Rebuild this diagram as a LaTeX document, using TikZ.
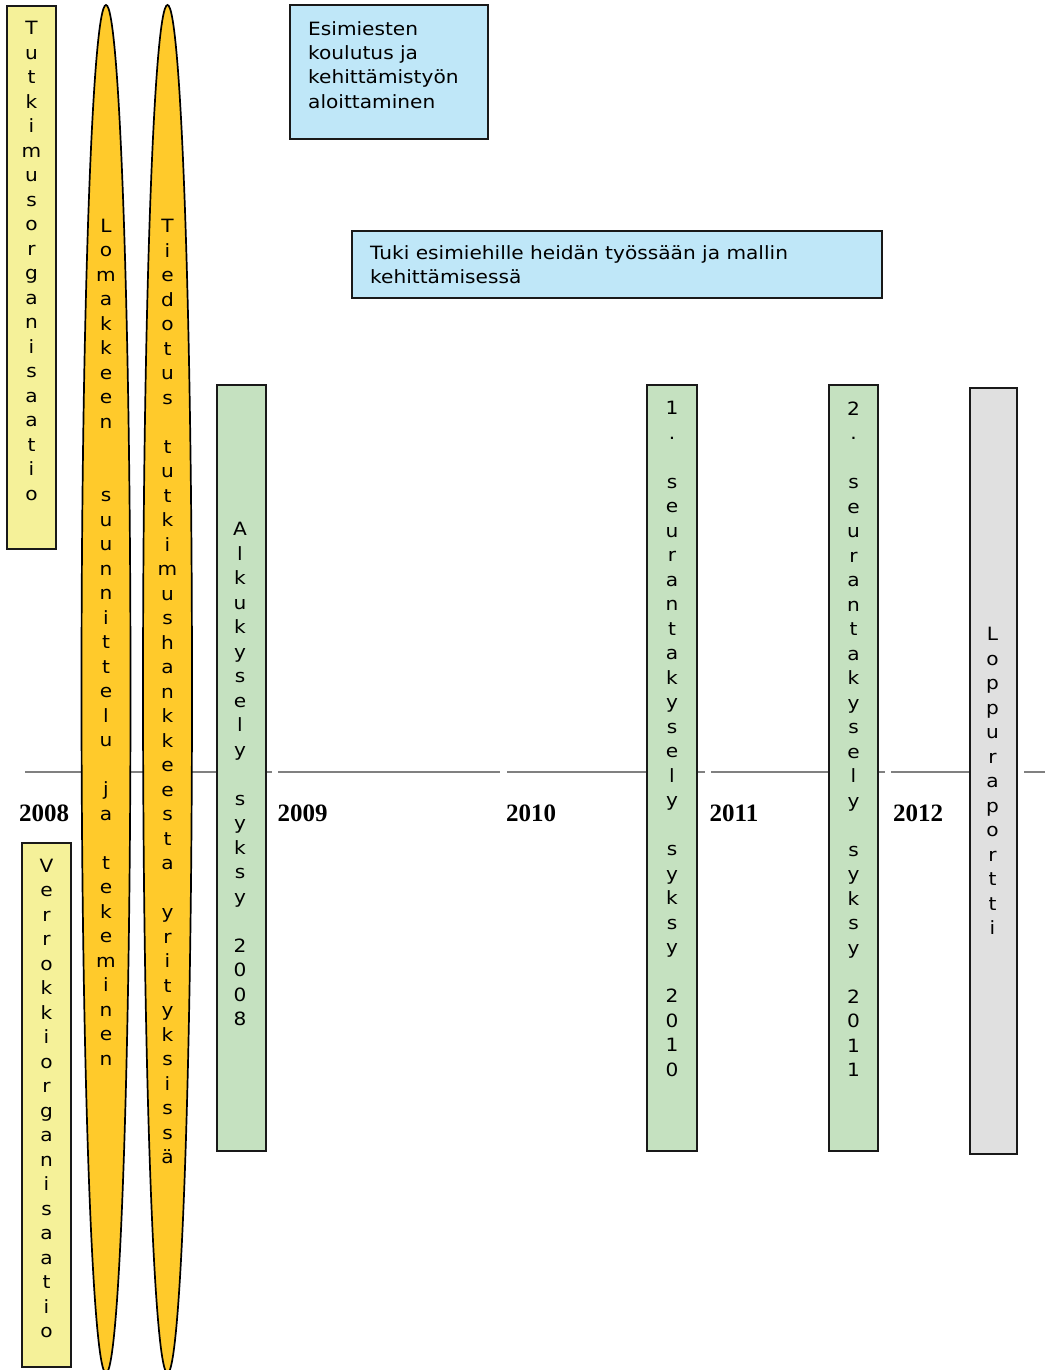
\documentclass[tikz,border=0pt]{standalone}
\usepackage{fontspec}
\setmainfont{DejaVu Sans}[FakeStretch=1.1]
\newfontfamily\yearfont{Liberation Serif}
\usetikzlibrary{shapes.geometric}
\definecolor{lyellow}{HTML}{F5F199}
\definecolor{orangeY}{HTML}{FFCA2B}
\definecolor{lgreen}{HTML}{C5E1C0}
\definecolor{lgray}{HTML}{E0E0E0}
\definecolor{lblue}{HTML}{BFE7F8}
\definecolor{tline}{HTML}{808080}
\newcommand\emptyline{\mbox{}}
\begin{document}
\begin{tikzpicture}[x=1pt,y=-1pt,
  box/.style={draw=black!90, line width=1.6pt, inner sep=0pt},
  ell/.style={ellipse, draw=black, line width=1.7pt, fill=orangeY, inner sep=0pt},
  vtext/.style={align=center, inner sep=0pt, font=\fontsize{18.3}{24.5}\selectfont},
  htext/.style={align=left, inner sep=0pt, anchor=north west, font=\fontsize{18.3}{24.4}\selectfont},
  year/.style={font=\yearfont\bfseries\fontsize{25}{26}\selectfont, inner sep=0pt},
  tl/.style={draw=tline, line width=1.2pt}]
\useasboundingbox (0,0) rectangle (1045,1370);
% timeline
\draw[tl] (25,772) -- (272,772);
\draw[tl] (278,772) -- (500,772);
\draw[tl] (507,772) -- (705,772);
\draw[tl] (711,772) -- (885,772);
\draw[tl] (891,772) -- (1017,772);
\draw[tl] (1024,772) -- (1045,772);
% years
\node[year] (y2008) at (44,813) {2008};
\node[year] (y2009) at (302.5,813) {2009};
\node[year] (y2010) at (531,813) {2010};
\node[year] (y2011) at (734,813) {2011};
\node[year] (y2012) at (918,813) {2012};
% yellow boxes
\node[box, fill=lyellow, minimum width=49, minimum height=543] (tut) at (31.5,277.5) {};
\node[vtext] (tuttext) at (31.5,261) {T\\u\\t\\k\\i\\m\\u\\s\\o\\r\\g\\a\\n\\i\\s\\a\\a\\t\\i\\o};
\node[box, fill=lyellow, minimum width=49, minimum height=524] (verr) at (46.5,1105) {};
\node[vtext] (verrtext) at (46.5,1098.5) {V\\e\\r\\r\\o\\k\\k\\i\\o\\r\\g\\a\\n\\i\\s\\a\\a\\t\\i\\o};
% ellipses
\node[ell, minimum width=49, minimum height=1368] (e1) at (106,689) {};
\node[vtext] (e1text) at (106,642) {L\\o\\m\\a\\k\\k\\e\\e\\n\\\emptyline\\\emptyline\\s\\u\\u\\n\\n\\i\\t\\t\\e\\l\\u\\\emptyline\\j\\a\\\emptyline\\t\\e\\k\\e\\m\\i\\n\\e\\n};
\node[ell, minimum width=49, minimum height=1368] (e2) at (167.5,689) {};
\node[vtext] (e2text) at (167.5,691.5) {T\\i\\e\\d\\o\\t\\u\\s\\\emptyline\\t\\u\\t\\k\\i\\m\\u\\s\\h\\a\\n\\k\\k\\e\\e\\s\\t\\a\\\emptyline\\y\\r\\i\\t\\y\\k\\s\\i\\s\\s\\ä};
% green boxes
\node[box, fill=lgreen, minimum width=49, minimum height=766] (alku) at (241.5,768) {};
\node[vtext] (alkutext) at (240,774) {A\\l\\k\\u\\k\\y\\s\\e\\l\\y\\\emptyline\\s\\y\\k\\s\\y\\\emptyline\\2\\0\\0\\8};
\node[box, fill=lgreen, minimum width=50, minimum height=766] (s1) at (672,768) {};
\node[vtext] (s1text) at (672,739) {1\\.\\\emptyline\\s\\e\\u\\r\\a\\n\\t\\a\\k\\y\\s\\e\\l\\y\\\emptyline\\s\\y\\k\\s\\y\\\emptyline\\2\\0\\1\\0};
\node[box, fill=lgreen, minimum width=49, minimum height=766] (s2) at (853.5,768) {};
\node[vtext] (s2text) at (853.5,739) {2\\.\\\emptyline\\s\\e\\u\\r\\a\\n\\t\\a\\k\\y\\s\\e\\l\\y\\\emptyline\\s\\y\\k\\s\\y\\\emptyline\\2\\0\\1\\1};
% gray box
\node[box, fill=lgray, minimum width=47, minimum height=766] (lopp) at (993.5,771) {};
\node[vtext] (lopptext) at (992.5,781) {L\\o\\p\\p\\u\\r\\a\\p\\o\\r\\t\\t\\i};
% blue boxes
\node[box, fill=lblue, minimum width=198, minimum height=134] (b1) at (389,72) {};
\node[htext] (b1text) at (308,21) {Esimiesten\\koulutus ja\\kehittämistyön\\aloittaminen};
\node[box, fill=lblue, minimum width=530, minimum height=67] (b2) at (617,264.5) {};
\node[htext] (b2text) at (370,245) {Tuki esimiehille heidän työssään ja mallin\\kehittämisessä};
\end{tikzpicture}
\end{document}
